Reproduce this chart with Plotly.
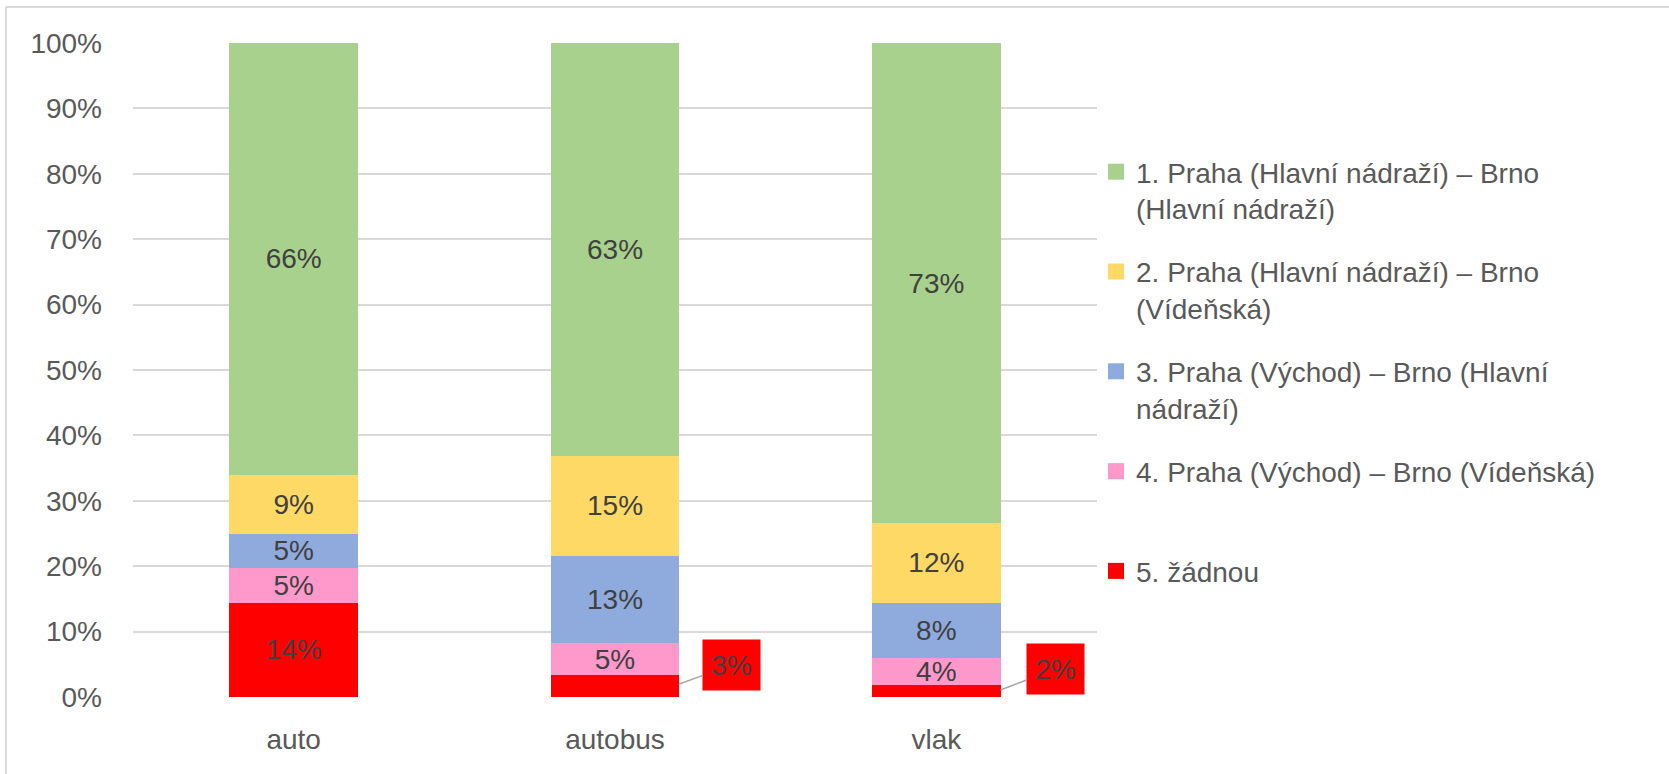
import plotly.graph_objects as go

categories = ["auto", "autobus", "vlak"]
series_names = [
    "1. Praha (Hlavní nádraží) – Brno<br>(Hlavní nádraží)",
    "2. Praha (Hlavní nádraží) – Brno<br>(Vídeňská)",
    "3. Praha (Východ) – Brno (Hlavní<br>nádraží)",
    "4. Praha (Východ) – Brno (Vídeňská)",
    "5. žádnou",
]
green = [66.0, 63.1, 73.4]
yellow = [9.1, 15.3, 12.2]
blue = [5.1, 13.4, 8.4]
pink = [5.4, 4.9, 4.2]
red = [14.4, 3.3, 1.8]
y_ticks = [0, 10, 20, 30, 40, 50, 60, 70, 80, 90, 100]

colors = ["#A9D18E", "#FFD966", "#8FAADC", "#FF99CC", "#FF0000"]
series_values = [green, yellow, blue, pink, red]

W, H = 1669, 774
L, R, T, B = 133, 572, 43, 77
PW, PH = W - L - R, H - T - B
FONT = "Liberation Sans"
FS = 28
BAR_W = 0.4
xs = list(range(len(categories)))

fig = go.Figure()

# stack bottom-up: red, pink, blue, yellow, green
for idx in [4, 3, 2, 1, 0]:
    vals = series_values[idx]
    if idx == 4:
        txt = [f"{v:.0f}%" if v >= 5 else "" for v in vals]
    else:
        txt = [f"{v:.0f}%" for v in vals]
    fig.add_trace(go.Bar(
        x=xs, y=vals, width=BAR_W, marker=dict(color=colors[idx], line=dict(width=0)),
        text=txt, textposition="inside", insidetextanchor="middle", textangle=0,
        constraintext="none",
        textfont=dict(family=FONT, size=FS, color="#404040"),
        showlegend=False, hoverinfo="skip",
    ))

# legend entries
for idx, name in enumerate(series_names):
    nm = name if "<br>" in name else name + "<br> "
    fig.add_trace(go.Scatter(
        x=[None], y=[None], mode="markers", name=nm, legendgroup=str(idx),
        marker=dict(symbol="square", size=16, color=colors[idx], line=dict(width=0)),
    ))

# callouts for small red segments
callout_offsets = [(52, -19), (55, -21)]
k = 0
for i, v in enumerate(red):
    if v < 5:
        ax, ay = callout_offsets[k]
        k += 1
        fig.add_annotation(
            x=i + BAR_W / 2, y=v * 0.6, xref="x", yref="y",
            text=f"{v:.0f}%", showarrow=True, arrowhead=0, arrowwidth=1.5,
            arrowcolor="#A6A6A6", ax=ax, ay=ay,
            bgcolor="#FF0000", width=57, height=50, borderpad=0,
            font=dict(family=FONT, size=FS, color="#404040"),
        )

# chart border (top and left)
bx = (6 - L) / PW
by = (H - B - 7) / PH
fig.add_shape(type="line", xref="paper", yref="paper", x0=bx, x1=(W - L) / PW, y0=by, y1=by,
              line=dict(color="#D9D9D9", width=2))
fig.add_shape(type="line", xref="paper", yref="paper", x0=bx, x1=bx, y0=by, y1=-B / PH,
              line=dict(color="#D9D9D9", width=2))

fig.update_layout(
    width=W, height=H,
    margin=dict(l=L, r=R, t=T, b=B, autoexpand=False),
    paper_bgcolor="white", plot_bgcolor="white",
    barmode="stack", bargap=0.6,
    font=dict(family=FONT, size=FS, color="#595959"),
    uniformtext=dict(minsize=FS, mode="show"),
    xaxis=dict(range=[-0.5, 2.5], tickvals=xs, ticktext=categories, showgrid=False,
               zeroline=False, showline=False, ticks="", ticklabelstandoff=23,
               tickfont=dict(family=FONT, size=FS, color="#595959")),
    yaxis=dict(range=[0, 100], tickvals=y_ticks, ticktext=[f"{v}%" for v in y_ticks],
               showgrid=True, gridcolor="#D9D9D9", gridwidth=2, zeroline=False,
               showline=False, ticks="", ticklabelstandoff=30,
               tickfont=dict(family=FONT, size=FS, color="#595959")),
    legend=dict(xref="container", yref="container", x=1096 / W, y=1 - 147 / H,
                xanchor="left", yanchor="top", valign="top", tracegroupgap=24,
                maxheight=700,
                font=dict(family=FONT, size=FS, color="#595959"),
                bgcolor="rgba(0,0,0,0)"),
    showlegend=True,
)

fig.write_html("out.html", config={"displayModeBar": False},
               post_script="document.body.style.margin='0px';")
